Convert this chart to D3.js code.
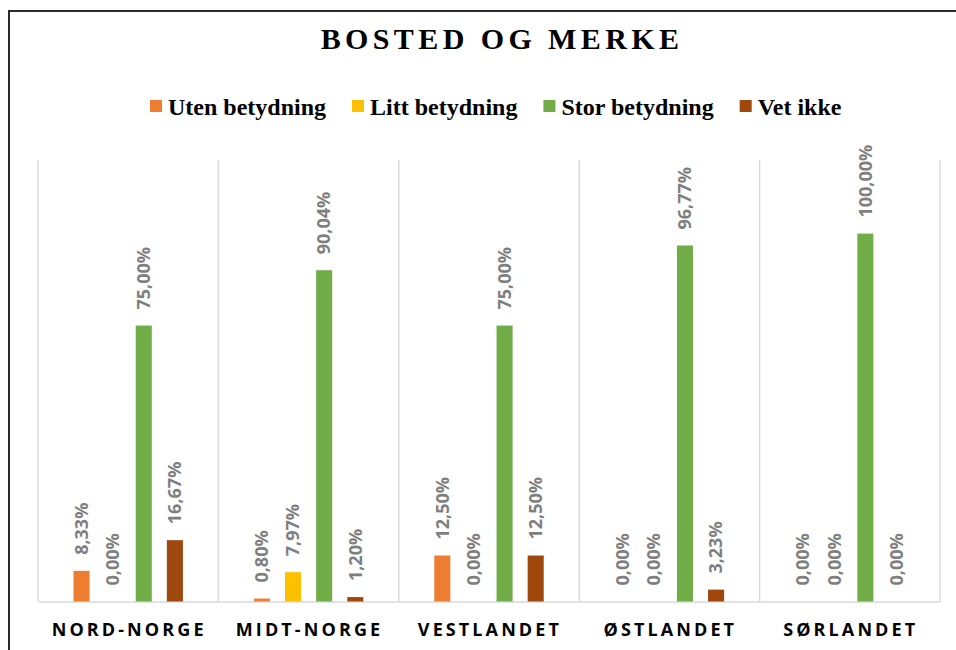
<!DOCTYPE html>
<html>
<head>
<meta charset="utf-8">
<script src="https://cdn.jsdelivr.net/npm/d3@7"></script>
<style>
  body { margin: 0; background: #fff; }
  svg { display: block; }
</style>
</head>
<body>
<svg width="956" height="650"></svg>
<script>
// regions and answer groups
const regions = ["NORD-NORGE", "MIDT-NORGE", "VESTLANDET", "ØSTLANDET", "SØRLANDET"];
const seriesNames = ["Uten betydning", "Litt betydning", "Stor betydning", "Vet ikke"];
const seriesColors = ["#ED7D31", "#FFC000", "#70AD47", "#9E480E"];

// shares in percent, one value per region
const utenValues = [8.33, 0.80, 12.50, 0.00, 0.00];
const littValues = [0.00, 7.97, 0.00, 0.00, 0.00];
const storValues = [75.00, 90.04, 75.00, 96.77, 100.00];
const vetValues  = [16.67, 1.20, 12.50, 3.23, 0.00];

const seriesValues = [utenValues, littValues, storValues, vetValues];

let svg = d3.select("svg");

let plot = {left: 38, right: 940, top: 160, bottom: 601.5};

// frame round the chart (runs past the right and bottom edge)
svg.append("rect")
    .attr("x", 9).attr("y", 11)
    .attr("width", 990).attr("height", 700)
    .attr("fill", "none")
    .attr("stroke", "#2b2b2b")
    .attr("stroke-width", 2);

let x0 = d3.scaleBand()
    .domain(regions)
    .range([plot.left, plot.right]);

let x1 = d3.scaleBand()
    .domain(d3.range(seriesNames.length))
    .range([0, x0.bandwidth()])
    .paddingInner(0.484)
    .paddingOuter(1.14);

let y = d3.scaleLinear()
    .domain([0, 120])
    .range([plot.bottom, plot.top]);

let locale = d3.formatLocale({decimal: ",", thousands: " ", grouping: [3], currency: ["", " kr"]});
let fmt = v => locale.format(".2f")(v) + "%";

// vertical grid lines between regions
let edges = regions.map(r => x0(r)).concat([plot.right]);
svg.append("g")
    .selectAll("line")
    .data(edges)
    .enter().append("line")
    .attr("x1", d => d).attr("x2", d => d)
    .attr("y1", plot.top).attr("y2", plot.bottom)
    .attr("stroke", "#d9d9d9")
    .attr("stroke-width", 1.5);

// category axis
let xAxis = svg.append("g")
    .attr("transform", "translate(0," + plot.bottom + ")")
    .call(d3.axisBottom(x0).tickSize(0).tickPadding(0));
xAxis.select(".domain")
    .attr("stroke", "#d9d9d9")
    .attr("stroke-width", 1.5);
xAxis.selectAll("text")
    .attr("y", 34.5)
    .attr("dy", 0)
    .attr("dx", "0.05em")
    .attr("fill", "#000")
    .style("font-family", "'Open Sans', sans-serif")
    .style("font-weight", "bold")
    .style("font-size", "18px")
    .style("letter-spacing", "3.1px");

// bars
let rows = [];
regions.forEach(function (r, i) {
    seriesValues.forEach(function (vals, s) {
        rows.push({region: r, s: s, value: vals[i]});
    });
});

let bars = svg.append("g");
bars.selectAll("rect")
    .data(rows)
    .enter().append("rect")
    .attr("x", d => x0(d.region) + x1(d.s))
    .attr("width", x1.bandwidth())
    .attr("y", d => y(d.value))
    .attr("height", d => y(0) - y(d.value))
    .attr("fill", d => seriesColors[d.s]);

// value labels, rotated
bars.selectAll("text")
    .data(rows)
    .enter().append("text")
    .attr("transform", function (d) {
        let cx = x0(d.region) + x1(d.s) + x1.bandwidth() / 2;
        return "translate(" + cx + "," + (y(d.value) - 16) + ")rotate(-90)";
    })
    .attr("dy", "0.35em")
    .attr("fill", "#7f7f7f")
    .style("font-family", "'Open Sans', sans-serif")
    .style("font-weight", "bold")
    .style("font-size", "18px")
    .text(d => fmt(d.value));

// title
svg.append("text")
    .attr("x", 502)
    .attr("y", 48.5)
    .attr("text-anchor", "middle")
    .style("font-family", "'Liberation Serif', 'Times New Roman', serif")
    .style("font-weight", "bold")
    .style("font-size", "30px")
    .style("letter-spacing", "4.4px")
    .text("BOSTED OG MERKE");

// legend
let legend = svg.append("g");
let lx = 150;
seriesNames.forEach(function (name, i) {
    legend.append("rect")
        .attr("x", lx).attr("y", 100)
        .attr("width", 12).attr("height", 12)
        .attr("fill", seriesColors[i]);
    let t = legend.append("text")
        .attr("x", lx + 18)
        .attr("y", 114.5)
        .style("font-family", "'Liberation Serif', 'Times New Roman', serif")
        .style("font-weight", "bold")
        .style("font-size", "24px")
        .text(name);
    lx += 18 + t.node().getComputedTextLength() + 26;
});
</script>
</body>
</html>
